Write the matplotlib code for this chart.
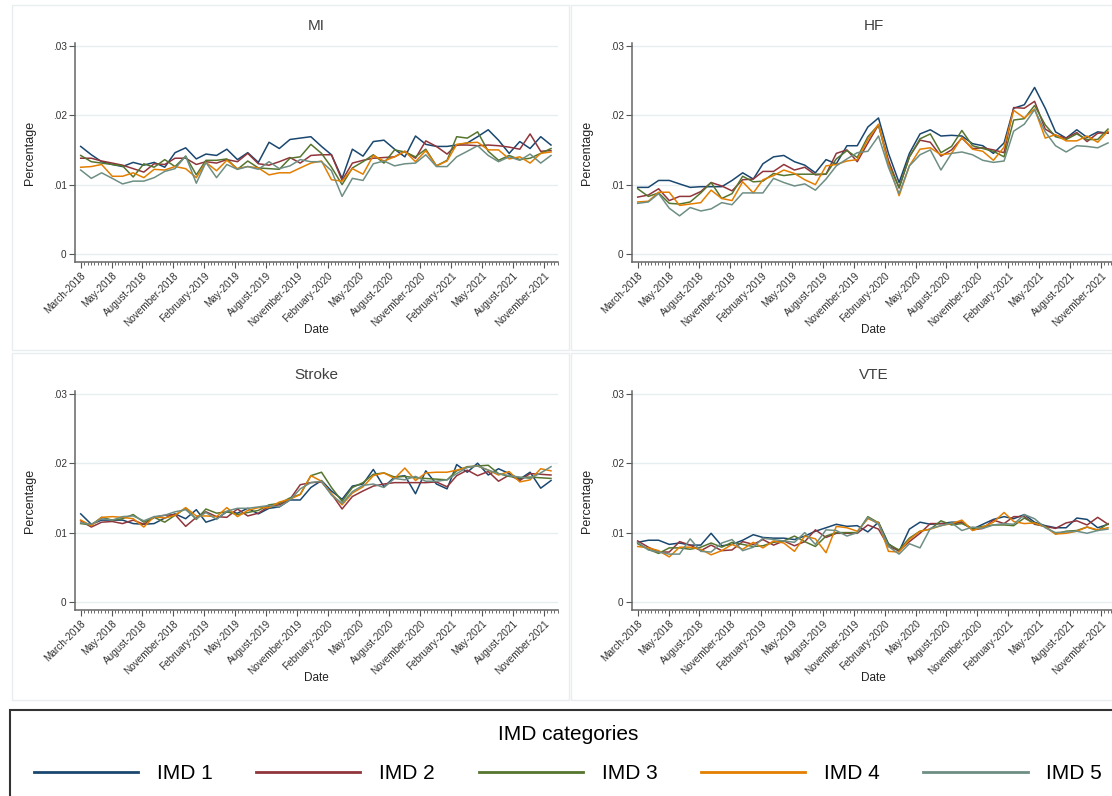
import numpy as np
import pandas as pd
import matplotlib
matplotlib.use("Agg")
import matplotlib.pyplot as plt
from matplotlib.lines import Line2D
from matplotlib.patches import Rectangle
from matplotlib.ticker import FuncFormatter

plt.rcParams['font.family'] = ['Liberation Sans', 'DejaVu Sans']

# monthly series, March 2018 - December 2021
months = pd.date_range('2018-03-01', periods=46, freq='MS')

imd_labels = ['IMD 1', 'IMD 2', 'IMD 3', 'IMD 4', 'IMD 5']
imd_colors = ['#1a476f', '#90353b', '#55752f', '#e37e00', '#6e8e84']

# x ticks every 90 days from the first month (as in the source graph)
tick_labels = ['March-2018', 'May-2018', 'August-2018', 'November-2018',
               'February-2019', 'May-2019', 'August-2019', 'November-2019',
               'February-2020', 'May-2020', 'August-2020', 'November-2020',
               'February-2021', 'May-2021', 'August-2021', 'November-2021']

# values below are in thousandths (0.001)
mi_imd1 = [15.5, 14.3, 13.3, 12.9, 12.6, 13.2, 12.8, 13.2, 12.5, 14.6,
           15.3, 13.7, 14.4, 14.2, 15.1, 13.6, 14.6, 13.2, 16.1, 15.2,
           16.5, 16.7, 16.9, 15.5, 14.3, 10.9, 15.1, 14.1, 16.2, 16.4,
           15.1, 14.0, 17.0, 15.8, 15.5, 15.5, 15.7, 16.0, 16.9, 17.9,
           16.4, 14.5, 16.2, 15.2, 16.9, 15.7]
mi_imd2 = [13.8, 13.8, 13.4, 13.1, 12.8, 12.3, 11.8, 13.0, 12.9, 13.8,
           13.8, 12.9, 13.3, 13.1, 13.6, 13.3, 14.5, 13.0, 12.8, 13.3,
           13.9, 13.1, 14.2, 14.3, 14.3, 10.6, 13.1, 13.5, 13.8, 13.9,
           14.0, 14.8, 13.8, 16.3, 15.5, 14.4, 15.7, 15.7, 15.6, 15.7,
           15.6, 15.4, 15.1, 17.3, 14.8, 14.9]
mi_imd3 = [14.2, 13.3, 13.1, 12.9, 12.7, 11.1, 13.0, 12.5, 13.6, 12.6,
           14.1, 11.4, 13.5, 13.5, 13.7, 12.2, 13.4, 12.4, 12.3, 12.2,
           13.8, 14.0, 15.8, 14.5, 12.5, 10.0, 12.4, 13.3, 14.3, 13.1,
           15.0, 14.7, 14.0, 15.1, 12.7, 13.5, 16.9, 16.7, 17.6, 14.8,
           13.5, 14.2, 13.6, 13.8, 14.5, 15.2]
mi_imd4 = [12.5, 12.6, 12.9, 11.2, 11.2, 11.7, 11.0, 12.2, 12.1, 12.6,
           12.3, 11.0, 13.2, 12.0, 13.5, 12.3, 12.6, 12.4, 11.4, 11.7,
           11.7, 12.4, 13.1, 13.4, 10.7, 10.5, 12.3, 11.5, 14.2, 13.4,
           14.0, 14.8, 13.3, 14.9, 12.7, 13.4, 15.8, 16.0, 16.1, 15.0,
           15.0, 13.7, 14.0, 13.1, 14.5, 14.7]
mi_imd5 = [12.1, 10.9, 11.7, 10.9, 10.1, 10.5, 10.5, 11.0, 11.9, 12.3,
           14.1, 10.2, 13.2, 11.0, 12.9, 12.2, 12.6, 12.2, 13.3, 12.3,
           12.7, 13.6, 13.3, 13.3, 12.0, 8.3, 10.9, 10.6, 13.0, 13.4,
           12.7, 13.0, 13.1, 14.3, 12.6, 12.6, 14.0, 14.8, 15.6, 14.2,
           13.3, 14.0, 13.5, 14.4, 13.1, 14.2]

hf_imd1 = [9.6, 9.6, 10.6, 10.6, 10.1, 9.6, 9.7, 9.7, 9.7, 10.6,
           11.7, 10.8, 13.0, 14.0, 14.2, 13.3, 12.8, 11.7, 13.6, 13.0,
           15.6, 15.6, 18.3, 19.6, 14.5, 10.3, 14.5, 17.3, 17.9, 17.0,
           17.1, 17.0, 15.9, 15.6, 14.5, 16.0, 21.0, 21.5, 24.0, 21.0,
           17.6, 16.7, 17.9, 16.8, 17.6, 17.4]
hf_imd2 = [8.2, 8.5, 9.4, 7.7, 8.3, 8.3, 9.0, 10.3, 9.8, 9.1,
           10.7, 10.8, 11.9, 11.9, 12.9, 12.1, 12.5, 11.4, 11.5, 14.5,
           15.0, 13.3, 16.0, 18.6, 13.5, 9.5, 14.0, 16.4, 16.1, 14.1,
           15.0, 16.7, 15.2, 15.3, 15.0, 14.6, 21.1, 21.0, 22.0, 18.0,
           17.1, 16.7, 17.5, 16.2, 17.4, 17.5]
hf_imd3 = [9.4, 8.3, 8.8, 7.3, 7.2, 7.5, 8.8, 10.3, 8.0, 8.7,
           11.2, 10.4, 10.5, 11.6, 11.3, 11.5, 11.5, 11.5, 11.5, 13.7,
           14.9, 13.9, 16.9, 18.6, 13.0, 9.6, 14.0, 16.6, 17.3, 14.6,
           15.5, 17.8, 15.6, 15.2, 14.8, 14.0, 19.3, 19.5, 21.4, 18.6,
           16.9, 16.5, 17.3, 16.5, 16.5, 18.0]
hf_imd4 = [7.5, 7.6, 8.9, 8.9, 7.0, 7.2, 7.4, 9.2, 8.0, 7.7,
           10.4, 8.8, 10.7, 11.3, 12.1, 11.6, 10.7, 10.0, 12.7, 12.9,
           13.4, 13.6, 16.5, 18.7, 13.0, 8.4, 12.7, 15.1, 15.3, 14.3,
           14.5, 16.8, 15.1, 14.8, 13.5, 15.4, 20.7, 19.6, 20.9, 16.7,
           17.2, 16.3, 16.3, 17.0, 16.1, 17.7]
hf_imd5 = [7.3, 7.5, 8.7, 6.6, 5.5, 6.7, 6.2, 6.5, 7.4, 7.1,
           8.8, 8.8, 8.8, 10.9, 10.3, 9.8, 10.1, 9.2, 10.8, 12.7,
           13.7, 14.6, 14.8, 17.0, 12.5, 8.7, 12.7, 14.3, 15.0, 12.1,
           14.5, 14.7, 14.3, 13.5, 13.2, 13.4, 17.7, 18.7, 20.8, 17.6,
           15.6, 14.7, 15.6, 15.5, 15.3, 16.0]

st_imd1 = [12.7, 11.2, 11.8, 11.8, 11.8, 11.3, 11.2, 11.3, 12.1, 12.7,
           12.0, 13.3, 11.5, 12.0, 13.0, 12.8, 13.5, 12.7, 13.5, 13.7,
           14.7, 14.7, 16.5, 17.5, 16.0, 14.8, 16.7, 17.0, 19.1, 16.6,
           18.0, 18.2, 15.6, 18.9, 17.0, 16.3, 19.8, 18.7, 20.0, 18.3,
           19.2, 18.5, 17.7, 18.7, 16.4, 17.5]
st_imd2 = [11.7, 10.8, 11.5, 11.6, 11.3, 11.8, 11.2, 12.2, 12.5, 12.6,
           10.9, 12.2, 13.0, 12.3, 12.2, 13.4, 12.4, 12.8, 13.8, 14.0,
           14.8, 16.9, 17.2, 17.3, 15.6, 13.4, 15.2, 16.0, 16.7, 17.0,
           17.2, 17.2, 17.2, 17.2, 17.3, 16.6, 18.2, 19.0, 18.2, 18.8,
           17.4, 18.3, 17.5, 18.5, 18.4, 18.3]
st_imd3 = [11.3, 11.1, 12.2, 11.8, 12.0, 12.6, 11.5, 12.2, 11.5, 12.5,
           13.5, 11.9, 13.4, 12.8, 13.0, 12.6, 12.9, 13.2, 14.0, 14.2,
           15.0, 15.5, 18.2, 18.7, 16.5, 14.5, 16.5, 17.2, 18.4, 18.6,
           18.0, 18.1, 17.9, 17.8, 17.7, 17.6, 18.9, 19.5, 19.6, 19.7,
           18.5, 18.1, 17.9, 18.0, 17.9, 17.8]
st_imd4 = [11.8, 11.0, 12.2, 12.3, 12.2, 12.0, 10.8, 12.3, 12.1, 12.5,
           13.6, 12.4, 12.4, 12.3, 13.6, 12.3, 13.2, 13.6, 13.6, 14.4,
           14.8, 15.5, 18.2, 17.4, 15.6, 14.0, 15.7, 16.6, 18.2, 18.6,
           17.8, 19.3, 17.5, 18.6, 18.7, 18.7, 19.0, 19.4, 19.6, 19.0,
           18.3, 18.8, 17.3, 17.6, 19.2, 18.9]
st_imd5 = [11.4, 11.2, 12.0, 11.8, 12.3, 12.4, 11.7, 12.3, 12.5, 13.0,
           13.3, 12.0, 12.9, 11.9, 13.1, 13.5, 13.5, 13.7, 13.9, 13.7,
           14.7, 16.3, 17.2, 17.4, 15.4, 14.2, 15.9, 16.8, 17.0, 16.5,
           17.8, 17.6, 18.1, 17.4, 17.4, 17.6, 18.5, 19.4, 19.6, 19.0,
           18.5, 18.2, 18.0, 17.8, 18.6, 19.5]

vte_imd1 = [8.6, 8.9, 8.9, 8.3, 8.5, 8.2, 8.2, 9.9, 8.1, 8.3,
            8.9, 9.7, 9.3, 9.2, 9.2, 9.0, 9.5, 10.2, 10.7, 11.2,
            10.9, 11.0, 10.1, 11.5, 8.4, 7.3, 10.5, 11.5, 11.2, 11.3,
            11.5, 11.5, 10.5, 11.2, 11.9, 12.3, 12.0, 12.6, 11.5, 11.0,
            10.7, 10.7, 12.1, 11.9, 10.7, 11.2]
vte_imd2 = [8.8, 7.9, 7.2, 7.2, 8.7, 8.2, 7.4, 8.2, 7.4, 7.5,
            8.7, 8.3, 9.0, 8.2, 8.8, 8.1, 8.7, 10.4, 9.3, 9.9,
            9.9, 9.9, 11.1, 10.5, 8.0, 7.4, 8.7, 9.9, 11.3, 11.3,
            11.2, 11.5, 10.4, 10.6, 11.8, 11.3, 12.3, 12.3, 11.2, 10.9,
            10.6, 11.4, 11.7, 11.1, 12.2, 11.2]
vte_imd3 = [8.4, 7.6, 7.0, 7.8, 7.8, 7.6, 7.9, 8.5, 7.9, 8.6,
            8.3, 8.0, 8.1, 8.6, 8.8, 9.5, 8.7, 8.0, 9.5, 10.0,
            10.0, 10.0, 12.3, 11.4, 8.3, 7.5, 9.2, 10.2, 10.5, 11.7,
            11.1, 11.3, 10.6, 10.9, 11.1, 11.1, 11.0, 12.1, 11.3, 10.9,
            9.8, 10.2, 10.3, 10.8, 10.3, 11.3]
vte_imd4 = [8.0, 7.8, 7.4, 6.5, 7.9, 7.9, 7.6, 6.8, 7.4, 8.3,
            7.6, 8.6, 7.8, 8.8, 8.5, 7.3, 9.5, 9.1, 7.1, 10.9,
            10.7, 10.2, 12.0, 11.4, 7.3, 7.2, 9.0, 10.2, 10.5, 11.0,
            11.3, 11.8, 10.3, 10.8, 11.5, 12.9, 11.6, 11.3, 11.4, 10.8,
            9.8, 9.9, 10.2, 10.8, 10.4, 10.7]
vte_imd5 = [8.6, 7.5, 7.2, 6.9, 6.9, 9.1, 7.3, 7.2, 8.5, 9.0,
            7.4, 7.9, 9.2, 9.0, 8.8, 8.6, 10.0, 8.3, 10.4, 10.3,
            9.5, 10.0, 12.2, 11.2, 8.0, 6.9, 8.4, 7.8, 10.6, 11.0,
            11.4, 10.3, 10.8, 10.6, 11.1, 11.3, 11.2, 12.6, 12.0, 10.7,
            10.0, 10.1, 10.2, 9.9, 10.3, 10.5]

W, H = 1112, 796
fig = plt.figure(figsize=(W / 100, H / 100), dpi=100)
fig.patch.set_facecolor('white')


def px_rect(x0, y0, x1, y1):
    return [x0 / W, 1 - y1 / H, (x1 - x0) / W, (y1 - y0) / H]


# faint graph-region boxes around each panel
for box in [(12, 5, 569, 350), (571, 5, 1130, 350),
            (12, 353, 569, 700), (571, 353, 1130, 700)]:
    r = px_rect(*box)
    fig.add_artist(Rectangle((r[0], r[1]), r[2], r[3], transform=fig.transFigure,
                             fill=False, edgecolor='#e8edef', lw=1))

start = pd.Timestamp('2018-03-01')
major_dates = [start + pd.Timedelta(days=90 * k) for k in range(len(tick_labels))]
minor_dates = pd.date_range(start, '2021-12-20', freq='10D')
x_left = start - pd.Timedelta(days=16.6)
x_right = x_left + pd.Timedelta(days=1408)

panels = [
    ('MI', (75, 43, 558, 262), [mi_imd1, mi_imd2, mi_imd3, mi_imd4, mi_imd5]),
    ('HF', (632, 43, 1115, 262), [hf_imd1, hf_imd2, hf_imd3, hf_imd4, hf_imd5]),
    ('Stroke', (75, 391, 558, 610), [st_imd1, st_imd2, st_imd3, st_imd4, st_imd5]),
    ('VTE', (632, 391, 1115, 610), [vte_imd1, vte_imd2, vte_imd3, vte_imd4, vte_imd5]),
]

for title, box, series in panels:
    ax = fig.add_axes(px_rect(*box))
    for vals, col, lab in zip(series, imd_colors, imd_labels):
        ax.plot(months, np.array(vals) / 1000, color=col, lw=1.1, label=lab)

    ax.set_xlim(x_left, x_right)
    ax.set_ylim(-0.00115, 0.0304)
    ax.set_yticks([0, 0.01, 0.02, 0.03])
    ax.yaxis.set_major_formatter(
        FuncFormatter(lambda v, p: '0' if abs(v) < 1e-9 else f'{v:.2f}'.lstrip('0')))
    ax.set_xticks(major_dates)
    ax.set_xticklabels(tick_labels, rotation=45, ha='right', rotation_mode='anchor')
    ax.set_xticks(minor_dates, minor=True)

    ax.grid(axis='y', color='#e6eef0', lw=1)
    ax.set_axisbelow(True)
    for s in ['top', 'right']:
        ax.spines[s].set_visible(False)
    for s in ['left', 'bottom']:
        ax.spines[s].set_color('#666666')
        ax.spines[s].set_linewidth(1.1)

    ax.tick_params(axis='both', which='major', length=4, width=0.8, color='#555555',
                   labelsize=7.2, labelcolor='#333333', pad=2)
    ax.tick_params(axis='x', which='minor', length=2, width=0.6, color='#555555')

    ax.set_title(title, fontsize=11, color='#404040', pad=9)
    ax.set_ylabel('Percentage', fontsize=9, color='#222222')
    ax.yaxis.set_label_coords(-0.081, 0.5)
    ax.set_xlabel('Date', fontsize=8.5, color='#222222')
    ax.xaxis.set_label_coords(0.5, -0.283)

# legend box along the bottom
r = px_rect(10, 710, 1125, 805)
fig.add_artist(Rectangle((r[0], r[1]), r[2], r[3], transform=fig.transFigure,
                         fill=False, edgecolor='#333333', lw=1.5))
handles = [Line2D([], [], color=c, lw=2.0) for c in imd_colors]
fig.legend(handles, imd_labels, loc='center', bbox_to_anchor=(568 / W, 1 - 754 / H),
           ncol=5, frameon=False, fontsize=15, title='IMD categories',
           title_fontsize=15, handlelength=5, handletextpad=0.9, columnspacing=2.1,
           labelspacing=1.0)

fig.savefig('out.png', dpi=100, facecolor='white')
